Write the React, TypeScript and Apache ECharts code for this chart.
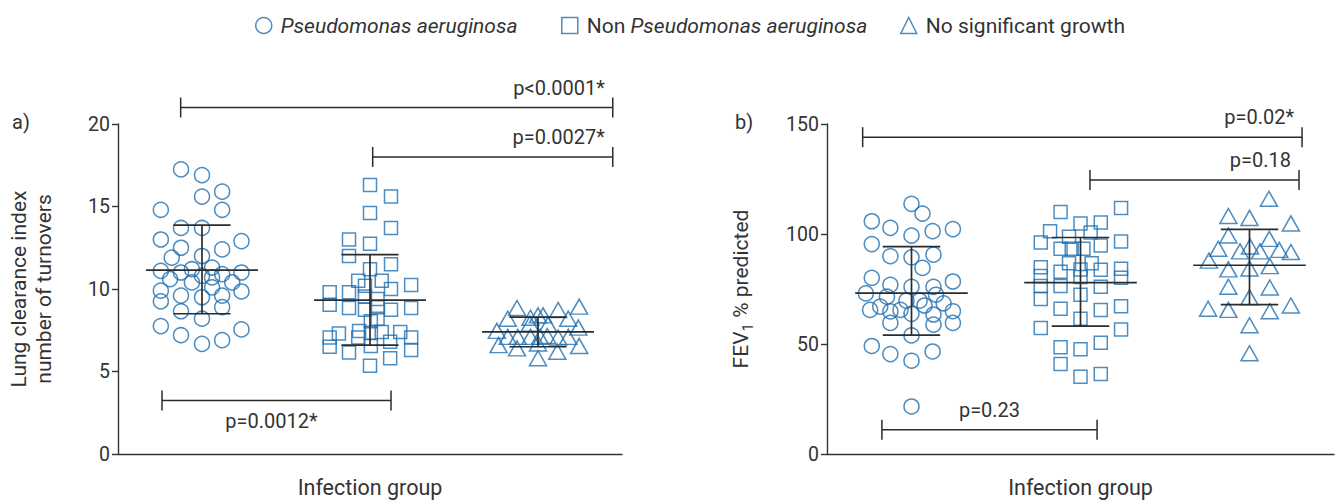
import React, { useEffect, useRef } from "react";
import * as echarts from "echarts";

const BLUE = "#1f6fb0";
const INK = "#333333";
const FONT = "Roboto";

const groupNames = ["Pseudomonas aeruginosa", "Non Pseudomonas aeruginosa", "No significant growth"];

// [jitter offset within the group band, value]
const lciPA = [
  [-0.125, 17.25], [0, 16.9], [0, 15.6], [0.12, 15.9], [-0.245, 14.8], [0.12, 14.8], [-0.125, 13.7], [0, 13.7],
  [-0.245, 13.0], [0.235, 12.9], [-0.125, 12.5], [0.12, 12.4], [-0.18, 11.9], [0, 12.0], [-0.245, 11.1],
  [-0.06, 11.2], [0.06, 11.3], [-0.125, 11.0], [0.12, 10.9], [0.235, 11.0], [-0.19, 10.6], [0.06, 10.7],
  [0, 10.8], [-0.06, 10.4], [0.06, 10.1], [0.18, 10.4], [-0.245, 9.9], [0.235, 9.85], [-0.125, 9.6], [0, 9.5],
  [0.12, 9.6], [-0.245, 9.25], [0.12, 8.9], [-0.125, 8.65], [0, 8.2], [-0.245, 7.75], [0.235, 7.55],
  [-0.125, 7.2], [0, 6.67], [0.12, 6.9],
];
const lciNonPA = [
  [0, 16.3], [0.125, 15.6], [0, 14.6], [0.125, 13.7], [-0.125, 13.0], [0, 12.75], [-0.125, 12.0], [0.125, 11.5],
  [0, 11.2], [-0.07, 10.5], [0.07, 10.5], [-0.03, 10.2], [0.245, 10.25], [-0.24, 9.8], [-0.125, 9.8],
  [-0.03, 9.55], [0.045, 9.4], [0.125, 10.0], [-0.24, 9.05], [-0.125, 8.85], [-0.03, 8.75], [0.045, 8.9],
  [0.125, 8.75], [0.245, 8.85], [0.005, 8.05], [0.045, 8.2], [-0.185, 7.3], [-0.065, 7.45], [0.005, 7.35],
  [0.07, 7.4], [0.18, 7.4], [-0.24, 7.06], [-0.07, 7.06], [0.245, 7.06], [0.12, 6.8], [-0.24, 6.5],
  [0.005, 6.55], [0.245, 6.3], [-0.125, 6.15], [0.12, 5.8], [0, 5.35],
];
const lciNSG = [
  [-0.125, 8.85], [0.12, 8.73], [0.245, 8.93], [-0.18, 8.2], [-0.045, 8.26], [0, 8.4], [0.03, 8.4], [0.18, 8.2],
  [-0.245, 7.46], [-0.048, 7.9], [0.06, 7.86], [0.24, 7.66], [-0.18, 7.1], [-0.12, 7.1], [-0.045, 7.1],
  [0.012, 7.1], [0.055, 7.15], [0.12, 7.06], [0.18, 7.1], [-0.235, 6.6], [-0.125, 6.4], [0, 6.7],
  [0.115, 6.2], [0.245, 6.55], [0, 5.8],
];
const fevPA = [
  [0, 113.7], [0.065, 109.3], [-0.235, 105.8], [-0.125, 102.8], [0, 99.3], [0.125, 101.3], [0.245, 102.2],
  [-0.235, 95.4], [-0.125, 89.9], [0, 89.4], [0.13, 90.6], [0.065, 84.6], [-0.235, 80.1], [0.245, 78.4],
  [-0.125, 76.9], [0, 76], [0.13, 76], [-0.27, 73], [-0.145, 71.5], [0.145, 72.4], [-0.03, 69.7], [0.048, 69.7],
  [0.19, 68.5], [-0.185, 67], [0.077, 67.5], [-0.245, 65.5], [-0.065, 65.5], [-0.125, 64.8], [0.245, 64.9],
  [0, 63.7], [0.13, 63.4], [-0.125, 59.6], [0.13, 58.8], [0.245, 59.6], [0, 53.9], [-0.235, 49.1],
  [-0.125, 45.4], [0.125, 46.6], [0, 42.4], [0, 21.6],
];
const fevNonPA = [
  [0.24, 111.8], [-0.118, 110], [0, 104.8], [0.12, 105.2], [-0.18, 101.3], [-0.068, 98.8], [0.06, 100.7],
  [-0.235, 96.1], [0.24, 96.6], [-0.118, 93.3], [-0.052, 93.3], [0.017, 93.3], [0.12, 94.8], [-0.068, 86.7],
  [0.066, 86.7], [-0.235, 84.9], [-0.118, 82.8], [0, 83.9], [0.12, 83.7], [0.24, 84.2], [-0.235, 80.9],
  [0, 80.5], [0.24, 80.1], [-0.235, 76.4], [-0.118, 76.4], [0.12, 76], [-0.235, 70.4], [0, 72.4],
  [-0.118, 66], [0.12, 65.5], [0.24, 67.2], [0, 61.5], [-0.235, 57.3], [0.24, 56.6], [-0.118, 48.5],
  [0, 47.6], [0.12, 50.6], [-0.118, 40.9], [0, 35.1], [0.12, 36.4],
];
const fevNSG = [
  [0.115, 116], [-0.125, 108.2], [0, 107.3], [0.245, 104.8], [-0.125, 99.3], [0.117, 97.8], [-0.185, 93.3],
  [-0.056, 92.1], [0.003, 94.3], [0.062, 92.1], [0.176, 92.8], [0.245, 91.8], [-0.24, 87.9], [-0.125, 83.9],
  [0, 84.3], [0.12, 85.4], [-0.125, 76], [0.12, 75.7], [0, 71.2], [-0.245, 66], [-0.125, 65.5], [0.12, 64.9],
  [0.245, 67.5], [0, 58.5], [0, 45.8],
];

// [mean, mean - SD, mean + SD]
const lciStats = [[11.15, 8.5, 13.87], [9.33, 6.6, 12.08], [7.4, 6.5, 8.3]];
const fevStats = [[73.1, 54.0, 94.3], [77.9, 58.1, 98.4], [85.8, 67.9, 102.1]];

const lciTicks = [0, 5, 10, 15, 20];
const fevTicks = [0, 50, 100, 150];

const bracketsA = [
  { x1: 0.373, x2: 2.945, y: 21.0, label: "p<0.0001*", place: "aboveRight" },
  { x1: 1.516, x2: 2.945, y: 18.0, label: "p=0.0027*", place: "aboveRight" },
  { x1: 0.262, x2: 1.625, y: 3.25, label: "p=0.0012*", place: "below" },
];
const bracketsB = [
  { x1: 0.211, x2: 2.811, y: 144.0, label: "p=0.02*", place: "aboveRight" },
  { x1: 1.556, x2: 2.793, y: 124.6, label: "p=0.18", place: "aboveRight" },
  { x1: 0.325, x2: 1.598, y: 11.0, label: "p=0.23", place: "above" },
];

const symbols = ["circle", "rect", "triangle"];
const symbolSizes: any[] = [15, 13, [17, 15]];
const legendLefts = [255, 561, 900];

function toPoints(arr: number[][], g: number) {
  return arr.map(([dx, v]) => [g + 0.5 + dx, v]);
}

function statsSeries(stats: number[][], xAxisIndex: number, yAxisIndex: number) {
  return {
    type: "custom",
    xAxisIndex,
    yAxisIndex,
    z: 5,
    silent: true,
    data: stats.map((s, g) => [g + 0.5, s[0], s[1], s[2]]),
    encode: { x: 0, y: [1, 2, 3] },
    renderItem: (params: any, api: any) => {
      const x = api.value(0);
      const m = api.value(1);
      const lo = api.value(2);
      const hi = api.value(3);
      const ml = api.coord([x - 0.333, m]);
      const mr = api.coord([x + 0.333, m]);
      const top = api.coord([x, hi]);
      const bot = api.coord([x, lo]);
      const cl = api.coord([x - 0.17, hi]);
      const cr = api.coord([x + 0.17, hi]);
      const bl = api.coord([x - 0.17, lo]);
      const br = api.coord([x + 0.17, lo]);
      const style = { stroke: "#2b2b2b", lineWidth: 1.7 };
      return {
        type: "group",
        children: [
          { type: "line", shape: { x1: ml[0], y1: ml[1], x2: mr[0], y2: mr[1] }, style },
          { type: "line", shape: { x1: top[0], y1: top[1], x2: bot[0], y2: bot[1] }, style },
          { type: "line", shape: { x1: cl[0], y1: cl[1], x2: cr[0], y2: cr[1] }, style },
          { type: "line", shape: { x1: bl[0], y1: bl[1], x2: br[0], y2: br[1] }, style },
        ],
      };
    },
  };
}

function bracketSeries(brackets: any[], xAxisIndex: number, yAxisIndex: number) {
  return {
    type: "custom",
    xAxisIndex,
    yAxisIndex,
    silent: true,
    clip: false,
    z: 6,
    data: brackets.map((b) => [b.x1, b.y, b.x2]),
    encode: { x: [0, 2], y: 1 },
    renderItem: (params: any, api: any) => {
      const b = brackets[params.dataIndex];
      const p1 = api.coord([api.value(0), api.value(1)]);
      const p2 = api.coord([api.value(2), api.value(1)]);
      const style = { stroke: "#2b2b2b", lineWidth: 1.5 };
      let tx = (p1[0] + p2[0]) / 2;
      let ty = p1[1] - 20;
      let align = "center";
      if (b.place === "aboveRight") {
        tx = p2[0] - 8;
        ty = p1[1] - 20;
        align = "right";
      } else if (b.place === "below") {
        ty = p1[1] + 21;
        tx = (p1[0] + p2[0]) / 2 - 5;
      }
      return {
        type: "group",
        children: [
          { type: "line", shape: { x1: p1[0], y1: p1[1], x2: p2[0], y2: p2[1] }, style },
          { type: "line", shape: { x1: p1[0], y1: p1[1] - 10, x2: p1[0], y2: p1[1] + 10 }, style },
          { type: "line", shape: { x1: p2[0], y1: p2[1] - 10, x2: p2[0], y2: p2[1] + 10 }, style },
          {
            type: "text",
            x: tx,
            y: ty,
            style: {
              text: b.label,
              align,
              verticalAlign: "middle",
              fontSize: 20,
              fontFamily: FONT,
              fill: INK,
            },
          },
        ],
      };
    },
  };
}

function scatterSeries(arrs: number[][][], xAxisIndex: number, yAxisIndex: number) {
  return arrs.map((arr, g) => ({
    type: "scatter",
    name: groupNames[g],
    xAxisIndex,
    yAxisIndex,
    symbol: symbols[g],
    symbolSize: symbolSizes[g],
    data: toPoints(arr, g),
    itemStyle: { color: "transparent", borderColor: BLUE, borderWidth: 1.5 },
    z: 3,
  }));
}

function catAxis(gridIndex: number) {
  return {
    type: "category",
    gridIndex,
    data: groupNames,
    boundaryGap: true,
    name: "Infection group",
    nameLocation: "middle",
    nameGap: 22,
    nameTextStyle: { fontSize: 21.5, color: INK, fontFamily: FONT },
    axisLine: { lineStyle: { color: INK, width: 1.4 } },
    axisTick: { alignWithLabel: true, length: 7, lineStyle: { color: INK, width: 1.4 } },
    axisLabel: { show: false },
    splitLine: { show: false },
  };
}

function valXAxis(gridIndex: number) {
  return { type: "value", gridIndex, min: 0, max: 3, show: false, splitLine: { show: false } };
}

function yAxis(gridIndex: number, ticks: number[], name: string, nameGap: number, rich?: any) {
  return {
    type: "value",
    gridIndex,
    min: ticks[0],
    max: ticks[ticks.length - 1],
    interval: ticks[1] - ticks[0],
    name,
    nameLocation: "middle",
    nameGap,
    nameTextStyle: { fontSize: 21, color: INK, fontFamily: FONT, lineHeight: 25, rich },
    axisLine: { show: true, lineStyle: { color: INK, width: 1.4 } },
    axisTick: { show: true, length: 6, lineStyle: { color: INK, width: 1.4 } },
    axisLabel: { fontSize: 19.5, color: INK, fontFamily: FONT, margin: 8 },
    splitLine: { show: false },
  };
}

export default function App() {
  const ref = useRef<HTMLDivElement>(null);
  useEffect(() => {
    if (!ref.current) return;
    const chart = echarts.init(ref.current, undefined, { renderer: "svg" });
    const legendIcons = ["circle", "rect", "triangle"];
    const legends = groupNames.map((n, i) => ({
      left: legendLefts[i],
      top: 15,
      padding: 0,
      itemWidth: 16,
      itemHeight: 16,
      data: [
        {
          name: n,
          icon: legendIcons[i],
          itemStyle: { color: "transparent", borderColor: BLUE, borderWidth: 1.5 },
        },
      ],
      formatter: (name: string) =>
        name === groupNames[0]
          ? "{i|Pseudomonas aeruginosa}"
          : name === groupNames[1]
          ? "Non {i|Pseudomonas aeruginosa}"
          : name,
      textStyle: {
        fontSize: 21,
        color: INK,
        fontFamily: FONT,
        padding: [0, 0, 0, 4],
        rich: { i: { fontSize: 21, color: INK, fontFamily: FONT, fontStyle: "italic" } },
      },
    }));
    const option: any = {
      animation: false,
      textStyle: { fontFamily: FONT },
      legend: legends,
      grid: [
        { left: 118, top: 124, width: 504, height: 335 },
        { left: 827, top: 124, width: 507, height: 335 },
      ],
      xAxis: [catAxis(0), valXAxis(0), catAxis(1), valXAxis(1)],
      yAxis: [
        yAxis(0, lciTicks, "Lung clearance index\nnumber of turnovers", 62),
        yAxis(1, fevTicks, "FEV{sub|1} % predicted", 74, {
          sub: { fontSize: 15, color: INK, fontFamily: FONT, verticalAlign: "bottom", padding: [0, 0, -2, 0] },
        }),
      ],
      graphic: [
        { type: "text", left: 12, top: 112, style: { text: "a)", fontSize: 20, fontFamily: FONT, fill: INK } },
        { type: "text", left: 735, top: 112, style: { text: "b)", fontSize: 20, fontFamily: FONT, fill: INK } },
      ],
      series: [
        ...scatterSeries([lciPA, lciNonPA, lciNSG], 1, 0),
        statsSeries(lciStats, 1, 0),
        bracketSeries(bracketsA, 1, 0),
        ...scatterSeries([fevPA, fevNonPA, fevNSG], 3, 1),
        statsSeries(fevStats, 3, 1),
        bracketSeries(bracketsB, 3, 1),
      ],
    };
    chart.setOption(option);
    return () => chart.dispose();
  }, []);
  return (
    <div
      ref={ref}
      style={{ position: "fixed", left: 0, top: 0, width: 1338, height: 503, background: "#fff" }}
    />
  );
}
